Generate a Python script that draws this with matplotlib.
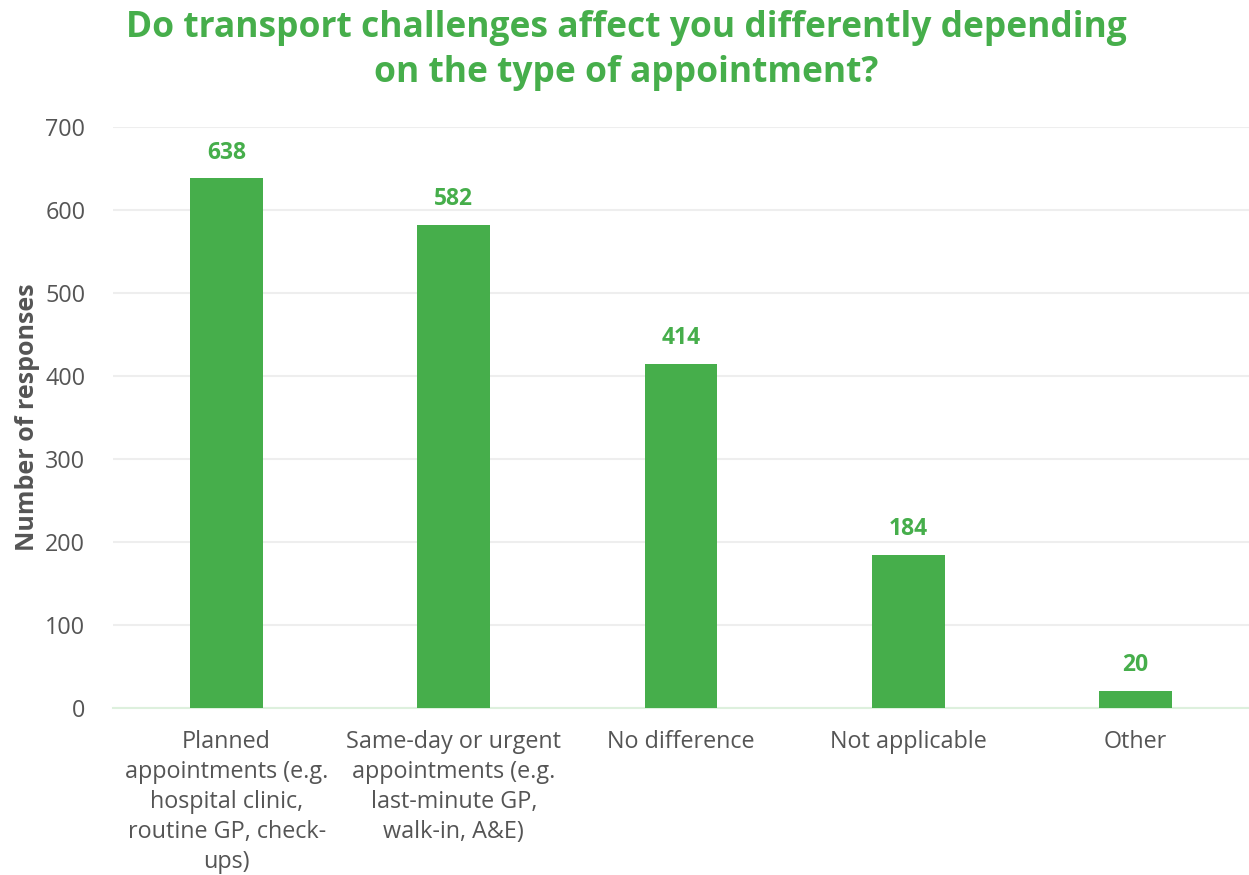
import numpy as np
import matplotlib
matplotlib.use("Agg")
import matplotlib.pyplot as plt

categories = [
    "Planned\nappointments (e.g.\nhospital clinic,\nroutine GP, check-\nups)",
    "Same-day or urgent\nappointments (e.g.\nlast-minute GP,\nwalk-in, A&E)",
    "No difference",
    "Not applicable",
    "Other",
]
responses = [638, 582, 414, 184, 20]

GREEN = '#46AE4B'
GREY = '#555555'
FONT = 'Open Sans'

fig = plt.figure(figsize=(12.49, 8.75), dpi=100, facecolor='white')
ax = fig.add_axes([0.0905, 0.1909, 0.9095, 0.664])

x = np.arange(len(categories))
ax.bar(x, responses, width=0.32, color=GREEN, zorder=3)

# value labels above bars
for xi, v in zip(x, responses):
    ax.annotate(str(v), (xi, v), xytext=(0, 10), textcoords='offset points',
                ha='center', va='bottom', color=GREEN, fontsize=16.5,
                fontweight='bold', family=FONT)

ax.set_xlim(-0.5, len(categories) - 0.5)
ax.set_ylim(0, 700)
ax.set_yticks(np.arange(0, 701, 100))
ax.set_xticks(x)
ax.set_xticklabels(categories, fontsize=16.8, color=GREY, family=FONT,
                   linespacing=1.33, va='top')
for lbl in ax.get_yticklabels():
    lbl.set_fontfamily(FONT)
ax.tick_params(axis='y', labelsize=16.8, labelcolor=GREY, length=0, pad=20)
ax.tick_params(axis='x', length=0, pad=16)

ax.grid(axis='y', color='#EEEEEE', lw=1.5, zorder=0)
for s in ['top', 'right', 'left']:
    ax.spines[s].set_visible(False)
ax.spines['bottom'].set_color('#DDF0DD')
ax.spines['bottom'].set_linewidth(1.5)

ax.set_ylabel("Number of responses", fontsize=18, fontweight='bold',
              color=GREY, family=FONT, labelpad=4)

fig.text(0.5015, 0.989, "Do transport challenges affect you differently depending\non the type of appointment?",
         ha='center', va='top', color=GREEN, fontsize=25.5, fontweight='bold',
         family=FONT, linespacing=1.35)

fig.savefig("out.png", dpi=100, facecolor='white')
